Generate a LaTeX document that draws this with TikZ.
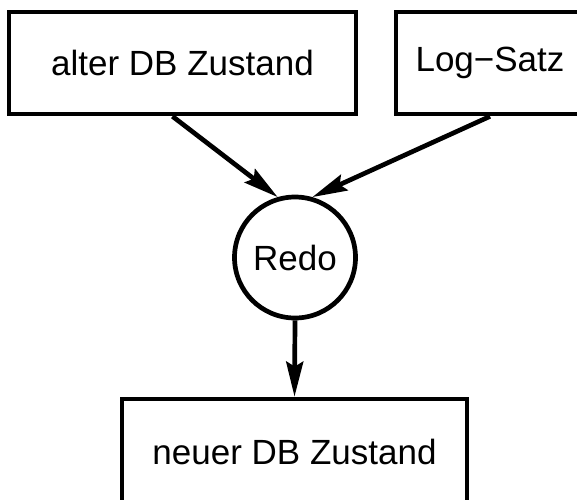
\documentclass[tikz,border=0pt]{standalone}
\usepackage{fontspec}
\setmainfont{Liberation Sans}
\usetikzlibrary{arrows.meta}

\begin{document}
\begin{tikzpicture}[x=1pt,y=-1pt,line width=4.7pt,
  font=\fontsize{35}{40}\selectfont,
  zustand/.style={draw,rectangle,inner sep=0pt,minimum height=102pt},
  schritt/.style={draw,circle,inner sep=0pt,minimum size=121pt},
  pfeil/.style={-{Stealth[length=35pt,width=17pt,inset=5pt]}}]
\useasboundingbox (0,0) rectangle (577,499);
\clip (0,0) rectangle (577,499);
% Eingaben oben, Redo-Schritt in der Mitte, Ergebnis unten
\node[zustand,minimum width=347pt] (alt) at (182.5,63) {alter DB Zustand};
\node[zustand,minimum width=188pt] (log) at (490,63) {Log−Satz};
\node[schritt] (redo) at (295,257.5) {Redo};
\node[zustand,minimum width=345pt,minimum height=110pt] (neu) at (294.5,454) {\raisebox{4pt}{neuer DB Zustand}};
\draw[pfeil] ([xshift=-10pt]alt.south) -- (redo.106);
\draw[pfeil] (log.south) -- (redo.74);
\draw[pfeil] (redo.south) -- (neu.north);
\end{tikzpicture}
\end{document}
